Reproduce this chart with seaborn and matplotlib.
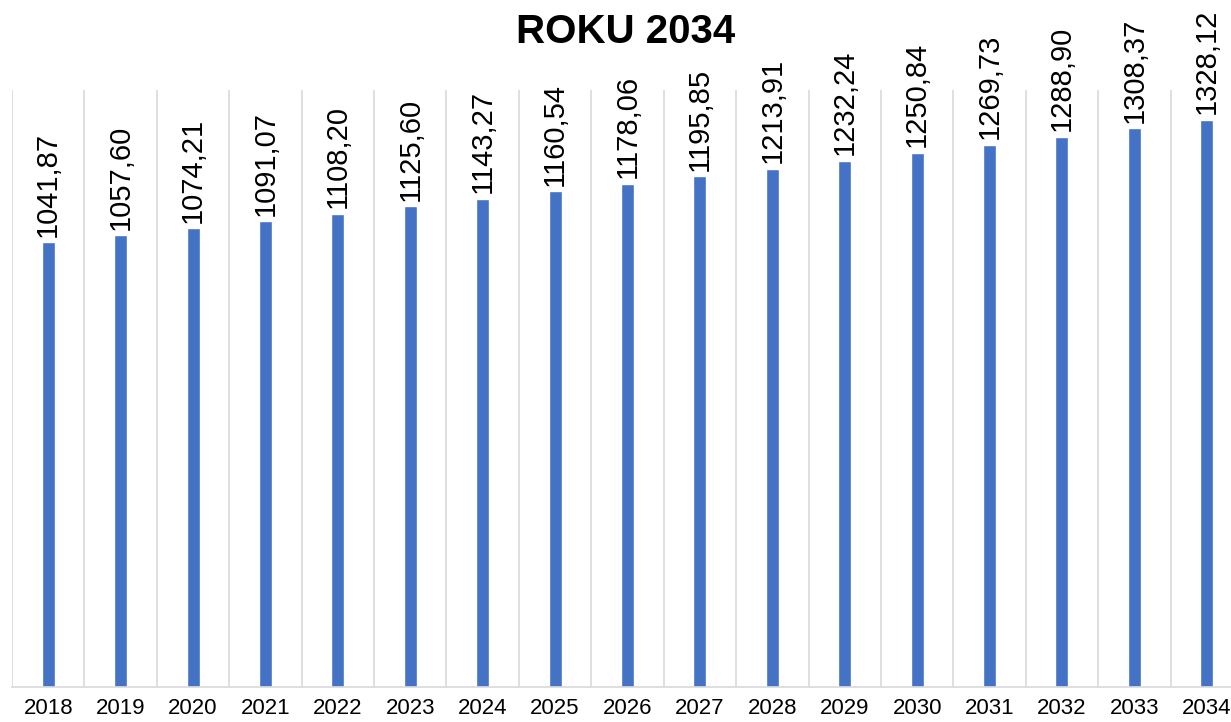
import matplotlib
matplotlib.use('Agg')
import matplotlib.pyplot as plt
import seaborn as sns
import pandas as pd
import numpy as np

# Data
years = ['2018', '2019', '2020', '2021', '2022', '2023', '2024', '2025', '2026',
         '2027', '2028', '2029', '2030', '2031', '2032', '2033', '2034']
values = [1041.87, 1057.60, 1074.21, 1091.07, 1108.20, 1125.60, 1143.27, 1160.54,
          1178.06, 1195.85, 1213.91, 1232.24, 1250.84, 1269.73, 1288.90, 1308.37,
          1328.12]
title = 'ROKU 2034'

df = pd.DataFrame({'year': years, 'value': values})

sns.set_theme(style='white')
plt.rcParams['font.family'] = ['Liberation Sans', 'DejaVu Sans']

fig = plt.figure(figsize=(12.31, 7.22), dpi=100)
ax = fig.add_axes([12 / 1231, 35 / 722, 1231 / 1231, 597 / 722])

sns.barplot(data=df, x='year', y='value', color='#4472C4', width=0.18,
            saturation=1, ax=ax)

ax.set_ylim(0, 1398)
ax.set_xlim(-0.5, len(years) - 0.5)

# vertical gridlines between categories
ax.set_xticks(np.arange(-0.5, len(years), 1), minor=True)
ax.grid(True, which='minor', axis='x', color='#d9d9d9', linewidth=1.2)
ax.grid(False, which='major')
ax.tick_params(axis='x', which='both', length=0, labelsize=16, pad=8,
               labelcolor='black')
ax.set_yticks([])
ax.set_xlabel('')
ax.set_ylabel('')
for side in ['top', 'right', 'left']:
    ax.spines[side].set_visible(False)
ax.spines['bottom'].set_color('#d9d9d9')
ax.spines['bottom'].set_linewidth(1.2)

for c in ax.containers:
    labels = [f'{v:.2f}'.replace('.', ',') for v in c.datavalues]
    ax.bar_label(c, labels=labels, rotation=90, padding=4, fontsize=21,
                 color='black')

fig.text(0.508, 0.955, title, ha='center', va='center', fontsize=29,
         fontweight='bold', color='black')

fig.savefig('out.png', dpi=100)
